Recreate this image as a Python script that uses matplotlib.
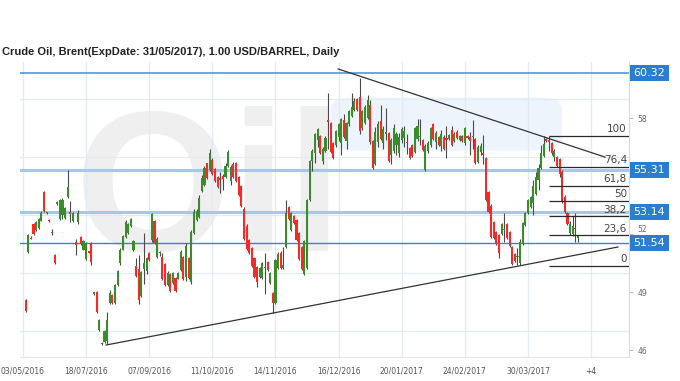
import numpy as np
import matplotlib
matplotlib.use('Agg')
import matplotlib.pyplot as plt
import matplotlib.transforms as mtransforms
from matplotlib.patches import Rectangle, FancyBboxPatch

# ---- data (daily candles) ----
opens = [
    48.60, 51.07, 51.82, 52.50, 52.20, 52.30, 52.70, 54.20, 53.08, 52.75,
    52.10, 50.90, 53.55, 52.80, 53.00, 52.85, 53.90, 53.15, 52.65, 51.60,
    52.60, 51.85, 51.20, 50.70, 51.10, 51.55, 48.90, 49.00, 47.05, 46.35,
    46.40, 46.45, 48.45, 48.85, 48.45, 49.35, 50.50, 51.20, 51.85, 52.05,
    52.40, 51.15, 50.35, 50.20, 48.80, 50.20, 50.10, 51.00, 51.70, 52.70,
    50.80, 51.00, 50.80, 50.45, 49.35, 49.95,
    49.45, 49.75, 49.70, 50.15, 50.80, 49.80, 50.75, 49.50, 52.05, 52.75,
    52.90, 54.25, 54.55, 55.65, 55.30, 55.85, 55.35, 54.95, 54.90, 55.00,
    54.95, 55.50, 54.75, 55.60, 55.65, 54.95, 54.50, 53.30, 52.40, 51.70,
    51.30, 50.75, 50.30, 49.80, 49.75, 50.30, 50.55, 49.45, 48.95, 48.45,
    50.25, 51.00, 50.25, 51.35, 53.40, 52.20, 52.95, 52.75, 52.05, 51.35,
    49.95, 50.25, 53.75, 55.80, 56.20,
    56.85, 57.05, 55.80, 56.30, 57.90, 57.75, 56.70, 56.60, 57.00, 56.70,
    57.90, 56.80, 57.70, 58.10, 58.40, 59.00, 59.10, 57.50, 57.75, 58.00,
    58.70, 56.80, 55.60, 56.75, 57.85, 56.70, 57.15, 57.25, 56.10, 56.30,
    56.60, 56.20, 56.85, 56.95, 56.75, 56.45, 56.60, 56.25, 56.90, 57.00,
    56.85, 55.30, 56.30, 56.60, 57.70, 56.75, 57.00, 56.55, 57.00, 56.95,
    56.90, 57.40, 56.80, 57.30, 56.85, 57.05, 56.70, 57.05, 57.00,
    57.00, 56.90, 55.75, 56.25, 56.20, 55.95, 54.20, 53.45, 52.60, 52.10,
    51.95, 52.00, 52.20, 52.50, 52.10, 51.35, 50.95, 50.80, 50.50, 51.50,
    52.45, 53.10, 53.40, 53.60, 54.05, 54.80, 55.40, 56.05, 56.90, 56.85,
    56.70, 56.00, 56.00, 55.90, 55.20, 53.90, 53.10, 52.05, 52.00, 52.30,
    51.80,
]
highs = [
    48.65, 52.00, 51.88, 52.55, 52.65, 52.85, 53.20, 54.25, 53.15, 52.80,
    52.25, 50.95, 53.70, 53.80, 53.85, 53.40, 55.30, 53.70, 53.15, 51.75,
    53.25, 51.90, 51.70, 51.60, 51.12, 51.60, 49.00, 49.05, 47.60, 46.40,
    47.05, 47.95, 49.10, 48.90, 49.40, 50.15, 51.30, 51.95, 52.75, 52.55,
    52.85, 51.70, 50.75, 50.90, 50.10, 52.05, 50.80, 51.05, 53.10, 52.75,
    51.85, 51.10, 51.00, 50.50, 50.10, 50.00,
    50.05, 49.80, 50.05, 51.20, 50.85, 51.55, 50.80, 52.20, 53.30, 53.30,
    54.00, 55.05, 55.50, 55.70, 56.40, 55.95, 55.40, 55.00, 55.20, 55.10,
    55.70, 56.35, 55.55, 55.75, 55.75, 55.00, 54.55, 53.40, 52.50, 51.75,
    51.35, 50.80, 50.35, 50.30, 50.55, 51.00, 50.60, 50.05, 49.00, 50.70,
    51.05, 51.10, 51.35, 53.75, 53.45, 53.15, 53.00, 52.80, 52.10, 51.40,
    51.70, 53.80, 55.85, 56.40, 57.25,
    57.50, 57.10, 56.50, 57.05, 59.30, 57.80, 56.75, 57.40, 57.75, 58.00,
    58.20, 57.80, 58.40, 59.30, 59.05, 59.05, 60.05, 58.40, 58.70, 59.20,
    58.95, 56.85, 57.55, 57.85, 58.70, 57.60, 58.50, 57.30, 56.95, 57.70,
    57.30, 57.25, 57.55, 57.60, 57.15, 56.50, 56.65, 57.55, 57.95, 57.95,
    56.90, 56.65, 56.80, 57.55, 57.75, 57.35, 57.05, 57.40, 57.10, 57.60,
    57.20, 57.60, 57.30, 57.40, 57.10, 57.10, 57.55, 57.10, 57.30,
    57.90, 56.95, 56.60, 56.70, 57.10, 56.00, 54.25, 53.55, 52.65, 52.15,
    52.00, 52.55, 53.10, 52.55, 52.15, 51.40, 51.00, 51.30, 51.75, 52.60,
    53.15, 53.80, 53.95, 54.80, 55.20, 55.60, 56.60, 57.05, 56.95, 57.07,
    56.75, 56.40, 56.05, 55.95, 55.30, 54.00, 53.15, 52.65, 52.95, 53.10,
    51.95,
]
lows = [
    47.95, 51.00, 51.72, 51.95, 52.15, 52.25, 52.65, 53.15, 53.05, 52.60,
    51.95, 50.45, 53.50, 52.75, 52.80, 52.80, 53.85, 52.60, 52.60, 50.90,
    52.50, 51.45, 51.15, 50.65, 51.00, 50.40, 48.85, 47.90, 47.00, 46.28,
    46.35, 46.30, 48.40, 48.40, 48.40, 49.30, 50.40, 51.15, 51.80, 52.00,
    52.35, 51.10, 49.80, 48.40, 48.75, 49.40, 49.95, 50.60, 51.60, 51.50,
    50.75, 50.85, 49.60, 49.30, 49.30, 49.00,
    49.40, 49.00, 49.65, 50.10, 49.60, 49.55, 49.70, 49.40, 52.00, 52.70,
    52.85, 54.20, 54.50, 54.85, 55.25, 55.05, 54.70, 54.40, 54.10, 54.30,
    54.90, 55.45, 54.55, 54.90, 54.70, 53.95, 53.40, 51.70, 51.20, 50.95,
    50.30, 49.75, 49.25, 49.75, 49.70, 48.90, 50.10, 49.40, 47.90, 48.40,
    50.20, 50.20, 50.20, 51.30, 52.75, 52.15, 52.50, 51.65, 50.65, 50.15,
    49.90, 50.20, 53.70, 55.25, 55.70,
    56.50, 56.15, 55.60, 56.25, 56.40, 56.20, 55.90, 56.50, 56.80, 56.10,
    56.95, 56.40, 57.60, 58.05, 58.35, 58.35, 57.20, 57.40, 57.70, 57.95,
    56.65, 55.35, 55.55, 56.50, 56.85, 56.40, 56.85, 55.75, 55.60, 56.20,
    56.10, 56.00, 56.70, 56.50, 56.15, 55.90, 56.00, 56.20, 56.80, 56.60,
    56.30, 55.25, 56.20, 56.50, 56.85, 56.40, 56.55, 56.30, 56.35, 55.95,
    56.85, 56.55, 56.75, 56.90, 56.80, 56.75, 56.60, 56.90, 56.10,
    56.40, 55.60, 55.70, 56.10, 55.60, 53.70, 53.10, 51.80, 51.75, 51.45,
    50.75, 51.95, 51.60, 51.75, 51.35, 50.40, 50.55, 50.40, 50.40, 51.45,
    52.40, 53.05, 53.35, 53.00, 54.00, 54.30, 55.35, 56.00, 56.75, 56.30,
    56.10, 55.80, 55.45, 54.95, 53.60, 53.10, 52.45, 51.95, 51.90, 51.60,
    51.60,
]
closes = [
    48.00, 51.95, 51.78, 52.00, 52.60, 52.80, 53.10, 53.20, 53.12, 52.65,
    52.05, 50.50, 53.65, 53.75, 53.75, 53.35, 54.45, 53.05, 53.10, 51.45,
    53.10, 51.50, 51.65, 51.55, 51.02, 50.55, 48.98, 47.95, 47.55, 46.33,
    47.00, 47.55, 48.95, 48.45, 49.35, 50.10, 51.20, 51.90, 52.60, 52.50,
    52.80, 51.65, 49.85, 48.60, 50.05, 50.50, 50.75, 50.65, 53.05, 51.55,
    51.75, 51.05, 49.65, 49.35, 50.00, 49.05,
    50.00, 49.05, 50.00, 51.05, 49.65, 51.40, 49.75, 52.10, 53.15, 53.20,
    53.85, 54.90, 55.40, 54.90, 56.20, 55.10, 54.75, 54.45, 54.80, 54.85,
    55.50, 56.25, 55.45, 54.95, 54.72, 54.00, 53.45, 51.75, 51.25, 51.00,
    50.35, 49.80, 49.50, 50.25, 50.50, 50.25, 50.15, 50.00, 48.45, 50.65,
    50.95, 50.25, 50.40, 53.10, 52.80, 53.10, 52.55, 51.70, 50.70, 50.20,
    51.65, 53.75, 55.80, 56.30, 57.20,
    57.45, 56.20, 56.40, 56.95, 57.80, 56.25, 55.95, 57.35, 57.70, 57.95,
    57.00, 57.75, 58.35, 58.55, 58.90, 58.40, 57.35, 58.35, 58.55, 58.95,
    56.75, 55.40, 57.30, 57.70, 56.90, 57.45, 57.30, 55.80, 56.85, 57.50,
    57.20, 57.00, 57.45, 57.35, 56.70, 55.95, 56.05, 57.50, 57.60, 57.05,
    56.35, 56.55, 56.70, 57.50, 56.90, 57.25, 56.60, 57.20, 56.40, 56.85,
    57.10, 56.60, 57.20, 56.95, 57.05, 56.80, 57.50, 56.95, 56.80,
    57.05, 55.65, 56.50, 56.55, 56.10, 53.75, 53.15, 51.85, 51.80, 51.50,
    51.00, 52.50, 52.25, 51.80, 51.40, 50.45, 50.60, 50.85, 51.60, 52.55,
    53.10, 53.75, 53.90, 54.50, 54.95, 55.40, 56.20, 56.65, 56.80, 56.75,
    56.20, 56.30, 55.50, 55.10, 53.70, 53.15, 52.50, 52.50, 52.40, 52.25,
    51.95,
]
assert len(opens) == len(highs) == len(lows) == len(closes)

date_ticks = [0, 24, 48, 72, 96, 120, 144, 168, 192, 216]
date_labels = ['03/05/2016', '18/07/2016', '07/09/2016', '11/10/2016', '14/11/2016',
               '16/12/2016', '20/01/2017', '24/02/2017', '30/03/2017', '+4']
price_ticks = [46, 49, 52, 58]
grid_prices = [47, 50, 53, 56, 59]

levels = [60.32, 55.31, 53.14, 51.54]
level_colors = ['#5596da', '#a4c8ea', '#a4c8ea', '#3f80cc']
level_widths = [1.2, 2.2, 2.2, 1.0]

fib_pct = [100, 76.4, 61.8, 50, 38.2, 23.6, 0]
fib_text = ['100', '76,4', '61,8', '50', '38,2', '23,6', '0']
fib_high = 57.07
fib_low = 50.35
fib_start = 200

upper_trend = ([119.8, 221.3], [60.54, 55.98])
lower_trend = ([31.6, 226.2], [46.26, 51.33])

title = 'Crude Oil, Brent(ExpDate: 31/05/2017), 1.00 USD/BARREL, Daily'

# ---- figure ----
fig = plt.figure(figsize=(6.8, 3.81), dpi=100)
ax = fig.add_axes([20 / 680, 24 / 381, 609 / 680, 295 / 381])
ax.set_xlim(-1.14, 230.4)
ax.set_ylim(45.64, 60.90)

# watermark
ax.text(0.09, 0.36, 'Oil', transform=ax.transAxes, fontsize=145, fontweight='bold',
        family='Liberation Sans', color='#efefef', ha='left', va='baseline', zorder=0)
ax.add_patch(FancyBboxPatch((0.52, 0.71), 0.36, 0.16, boxstyle='round,pad=0.01,rounding_size=0.04',
                            transform=ax.transAxes, fc='#edf4fb', ec='none', zorder=0))

ax.set_axisbelow(True)
ax.grid(axis='x', color='#e2eaf2', lw=0.9)
for g in grid_prices:
    ax.axhline(g, color='#e2eaf2', lw=0.9, zorder=0.5)

# price level lines
for lv, c, w in zip(levels, level_colors, level_widths):
    ax.axhline(lv, color=c, lw=w, zorder=1)

# candles
x = np.arange(1, len(closes) + 1)
o = np.array(opens)
c = np.array(closes)
body_col = np.where(c >= o, '#3a8c28', '#ff2626')
ax.vlines(x, lows, highs, color='#4a4a4a', lw=0.8, zorder=2)
h = c - o
h = np.where(np.abs(h) < 0.06, np.sign(h + 1e-9) * 0.06, h)
ax.bar(x, h, bottom=o, width=0.8, color=body_col, lw=0, zorder=3)

# trend lines
ax.plot(*upper_trend, color='#333333', lw=0.9, zorder=4)
ax.plot(*lower_trend, color='#333333', lw=0.9, zorder=4)

# fibonacci
xmax = ax.get_xlim()[1]
for p, t in zip(fib_pct, fib_text):
    yv = fib_low + (fib_high - fib_low) * p / 100
    ax.hlines(yv, fib_start, xmax, color='#2b2b2b', lw=0.9, zorder=4)
    ax.text(xmax - 0.8, yv + 0.08, t, ha='right', va='bottom', fontsize=7.5,
            color='#444444', zorder=5)

# right value boxes
trans = mtransforms.blended_transform_factory(ax.transAxes, ax.transData)
for lv in levels:
    ax.add_patch(Rectangle((1.001, lv - 0.41), 0.064, 0.82, transform=trans,
                           fc='#2b7dd2', ec='none', clip_on=False, zorder=6))
    ax.text(1.033, lv, f'{lv:.2f}', transform=trans, ha='center', va='center',
            color='white', fontsize=8, zorder=7, clip_on=False)

# axes styling
ax.yaxis.tick_right()
ax.set_yticks(price_ticks)
ax.set_yticklabels([str(v) for v in price_ticks], fontsize=5.5, color='#666666')
for lab, v in zip(ax.get_yticklabels(), price_ticks):
    if v == 52:
        lab.set_va('bottom')
ax.tick_params(axis='y', length=3, color='#c0c0c0', pad=3)
ax.set_xticks(date_ticks)
ax.set_xticklabels(date_labels, fontsize=5.5, color='#555555')
ax.tick_params(axis='x', length=0, pad=7)
for s in ['top', 'left']:
    ax.spines[s].set_visible(False)
ax.spines['right'].set_color('#cbdcec')
ax.spines['bottom'].set_color('#dde6ee')

fig.text(2 / 680, 1 - 52 / 381, title, ha='left', va='center', fontsize=8,
         fontweight='bold', family='Liberation Sans', color='#222222')

fig.savefig('out.png', dpi=100)
